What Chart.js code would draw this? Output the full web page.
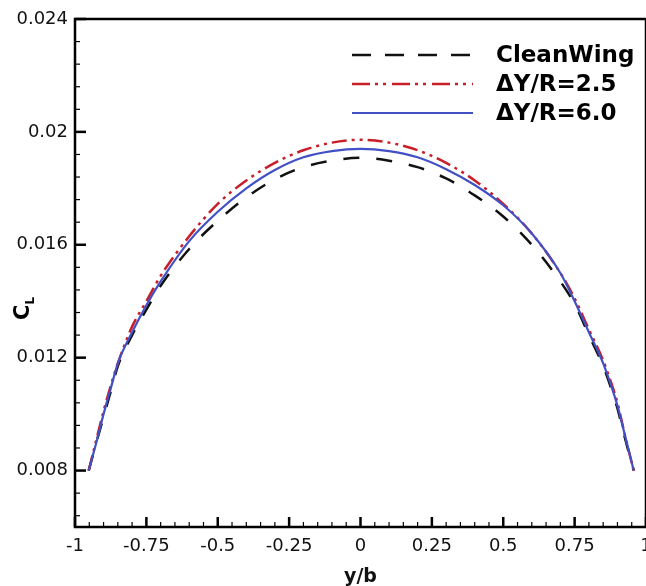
<!DOCTYPE html>
<html lang="en">

<head>
    <meta charset="UTF-8">
    <title>Spanwise CL distribution</title>
    <style>
        body {
            margin: 0;
            background: #fff;
        }

        .chart-container {
            width: 646px;
            height: 586px;
        }
    </style>
</head>

<body>
    <div class="chart-container">
        <canvas id="myChart" width="646" height="586"></canvas>
    </div>

    <script src="https://cdn.jsdelivr.net/npm/chart.js"></script>
    <script>
        // spanwise stations (y/b) and lift coefficient
        const spanPos = [-0.952, -0.925, -0.9, -0.875, -0.85, -0.8, -0.75, -0.7, -0.6, -0.5, -0.4, -0.3, -0.2, -0.1, 0,
            0.1, 0.2, 0.3, 0.4, 0.5, 0.6, 0.7, 0.75, 0.8, 0.85, 0.875, 0.9, 0.925, 0.957];
        const cleanWing = [0.0080, 0.0090, 0.0099, 0.0108, 0.0117, 0.0128, 0.0137, 0.01455, 0.01585, 0.01685, 0.01768, 0.01832, 0.01875, 0.01898, 0.01908,
            0.01898, 0.01875, 0.01835, 0.01775, 0.0170, 0.0160, 0.0147, 0.0139, 0.0128, 0.0117, 0.0110, 0.0102, 0.0092, 0.0080];
        const dyR25 = [0.0080, 0.0091, 0.0101, 0.0110, 0.0118, 0.0131, 0.0140, 0.0149, 0.0163, 0.01745, 0.01828, 0.0189, 0.01935, 0.01962, 0.01972,
            0.01962, 0.01935, 0.0189, 0.01828, 0.01745, 0.0164, 0.0150, 0.0141, 0.0130, 0.0119, 0.0112, 0.0104, 0.0093, 0.0080];
        const dyR60 = [0.0080, 0.0090, 0.0100, 0.0109, 0.0118, 0.0129, 0.01386, 0.0147, 0.01613, 0.01717, 0.0180, 0.01865, 0.0191, 0.01932, 0.0194,
            0.01932, 0.0191, 0.01868, 0.01812, 0.0174, 0.0164, 0.0150, 0.0140, 0.0129, 0.0118, 0.0111, 0.0103, 0.0093, 0.0080];
        const seriesNames = ['CleanWing', '\u0394Y/R=2.5', '\u0394Y/R=6.0'];
        const xTicks = [-1, -0.75, -0.5, -0.25, 0, 0.25, 0.5, 0.75, 1];
        const yTicks = [0.008, 0.012, 0.016, 0.02, 0.024];

        const FONT = "'DejaVu Sans', Arial, sans-serif";

        function toPoints(vals) {
            return spanPos.map((x, i) => ({ x: x, y: vals[i] }));
        }

        // frame + inward major/minor ticks, placed with the chart's scales
        const frameTicks = {
            id: 'frameTicks',
            afterDatasetsDraw(chart) {
                const ctx = chart.ctx;
                const a = chart.chartArea;
                const xs = chart.scales.x, ys = chart.scales.y;
                ctx.save();
                ctx.strokeStyle = '#000';
                // x ticks: minor every 0.05
                for (let i = 0; i <= 40; i++) {
                    const px = xs.getPixelForValue(-1 + i * 0.05);
                    const major = (i % 5 === 0);
                    ctx.lineWidth = major ? 2.5 : 1.2;
                    ctx.beginPath();
                    ctx.moveTo(px, a.bottom);
                    ctx.lineTo(px, a.bottom - (major ? 10 : 5));
                    ctx.stroke();
                }
                // y ticks: minor every 0.0008
                for (let k = -2; k <= 20; k++) {
                    const py = ys.getPixelForValue(0.008 + k * 0.0008);
                    const major = (k % 5 === 0);
                    ctx.lineWidth = major ? 2.5 : 1.2;
                    ctx.beginPath();
                    ctx.moveTo(a.left, py);
                    ctx.lineTo(a.left + (major ? 11 : 5), py);
                    ctx.stroke();
                }
                ctx.lineWidth = 2.5;
                ctx.strokeRect(a.left, a.top, a.right - a.left, a.bottom - a.top);
                ctx.restore();
            }
        };

        // legend inside the plot, plus the C_L axis title with subscript
        const insideLegend = {
            id: 'insideLegend',
            afterDraw(chart) {
                const ctx = chart.ctx;
                const rows = [55, 84, 113];
                ctx.save();
                chart.data.datasets.forEach((ds, i) => {
                    const y = rows[i];
                    ctx.strokeStyle = ds.borderColor;
                    ctx.lineWidth = ds.borderWidth;
                    ctx.setLineDash(ds.legendDash || ds.borderDash || []);
                    ctx.beginPath();
                    ctx.moveTo(352, y);
                    ctx.lineTo(473, y);
                    ctx.stroke();
                    ctx.setLineDash([]);
                    ctx.fillStyle = '#000';
                    ctx.font = 'bold 23px ' + FONT;
                    ctx.textBaseline = 'middle';
                    ctx.textAlign = 'left';
                    ctx.fillText(ds.label, 496, y + 1);
                });

                ctx.translate(29, 320);
                ctx.rotate(-Math.PI / 2);
                ctx.textBaseline = 'alphabetic';
                ctx.font = 'bold 21px ' + FONT;
                ctx.fillText('C', 0, 0);
                const w = ctx.measureText('C').width;
                ctx.font = 'bold 12px ' + FONT;
                ctx.fillText('L', w, 5);
                ctx.restore();
            }
        };

        const ctx = document.getElementById('myChart').getContext('2d');
        const myChart = new Chart(ctx, {
            type: 'line',
            data: {
                datasets: [{
                    label: seriesNames[0],
                    data: toPoints(cleanWing),
                    borderColor: '#111111',
                    borderWidth: 2.5,
                    borderDash: [16, 17],
                    legendDash: [19, 14],
                    order: 2
                }, {
                    label: seriesNames[1],
                    data: toPoints(dyR25),
                    borderColor: '#c81e28',
                    borderWidth: 2.5,
                    borderDash: [15, 5, 3, 5, 3, 5],
                    legendDash: [18, 5, 3, 5, 3, 6],
                    order: 1
                }, {
                    label: seriesNames[2],
                    data: toPoints(dyR60),
                    borderColor: '#4150c4',
                    borderWidth: 2.2,
                    order: 0
                }]
            },
            options: {
                responsive: false,
                animation: false,
                layout: { padding: { top: 19, right: 0, left: 0, bottom: 0 } },
                elements: {
                    point: { radius: 0 },
                    line: { cubicInterpolationMode: 'monotone', fill: false }
                },
                plugins: {
                    legend: { display: false },
                    tooltip: { enabled: false }
                },
                scales: {
                    x: {
                        type: 'linear',
                        min: -1,
                        max: 1,
                        afterBuildTicks: s => { s.ticks = xTicks.map(v => ({ value: v })); },
                        afterFit: s => { s.height = 59; s.paddingLeft = 0; s.paddingRight = 0; },
                        grid: { display: false, drawTicks: false },
                        border: { display: false },
                        ticks: {
                            color: '#111',
                            font: { family: FONT, size: 18 },
                            padding: 9,
                            maxRotation: 0,
                            autoSkip: false,
                            callback: v => String(v)
                        },
                        title: {
                            display: true,
                            text: 'y/b',
                            color: '#111',
                            font: { family: FONT, size: 19, weight: 'bold' },
                            padding: { top: 0, bottom: -2 }
                        }
                    },
                    y: {
                        type: 'linear',
                        min: 0.006,
                        max: 0.024,
                        afterBuildTicks: s => { s.ticks = yTicks.map(v => ({ value: v })); },
                        afterFit: s => { s.width = 75; s.paddingTop = 0; s.paddingBottom = 0; },
                        grid: { display: false, drawTicks: false },
                        border: { display: false },
                        ticks: {
                            color: '#111',
                            font: { family: FONT, size: 18 },
                            padding: 7,
                            callback: v => String(v)
                        }
                    }
                }
            },
            plugins: [frameTicks, insideLegend]
        });
    </script>
</body>

</html>
